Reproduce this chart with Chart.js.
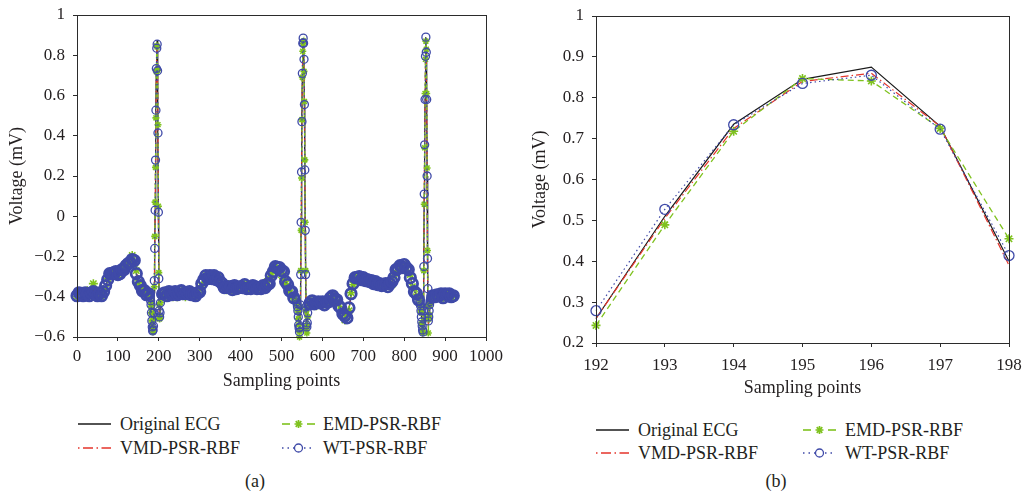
<!DOCTYPE html>
<html>
<head>
<meta charset="utf-8">
<title>ECG prediction comparison</title>
<script src="https://cdn.jsdelivr.net/npm/chart.js@4.4.1/dist/chart.umd.min.js"></script>
<style>
  html, body { margin: 0; padding: 0; background: #fff; }
  #page { position: relative; width: 1026px; height: 504px; overflow: hidden;
          font-family: 'Liberation Serif', 'Times New Roman', serif; color: #231f20; }
  canvas { position: absolute; top: 0; }
  #chartA { left: 0; }
  #chartB { left: 520px; }
  .lg { position: absolute; font-size: 18px; line-height: 20px; white-space: nowrap; }
  .sw { position: absolute; width: 34px; height: 12px; overflow: visible; }
  .cap { position: absolute; width: 60px; text-align: center; font-size: 18px; line-height: 20px; }
</style>
</head>
<body>
<div id="page">
  <canvas id="chartA" width="510" height="392"></canvas>
  <canvas id="chartB" width="506" height="399"></canvas>
  <div class="cap" style="left:225px; top:471px;">(a)</div>
  <div class="cap" style="left:746px; top:471px;">(b)</div>
</div>
<script>
// sampling points (dense around the three QRS complexes)
const samplingPoints = [
  0, 5, 10, 15, 20, 25, 30, 35, 40, 45, 50, 55, 60, 65, 70, 75, 80, 85, 90, 95,
  100, 105, 110, 115, 120, 125, 130, 135, 140, 145, 150, 155, 160, 165, 170, 175,
  178, 179, 180, 181, 182, 183, 184, 185, 186, 187, 188, 189, 190, 191, 192, 193, 194, 195, 196, 197, 198, 199, 200, 201, 202, 203, 204, 205, 206,
  210, 215, 220, 225, 230, 235, 240, 245, 250, 255, 260, 265, 270, 275, 280, 285, 290, 295, 300, 305,
  310, 315, 320, 325, 330, 335, 340, 345, 350, 355, 360, 365, 370, 375, 380, 385, 390, 395, 400, 405,
  410, 415, 420, 425, 430, 435, 440, 445, 450, 455, 460, 465, 470, 475, 480, 485, 490, 495, 500, 505,
  510, 515, 520, 525, 530,
  536, 537, 538, 539, 540, 541, 542, 543, 544, 545, 546, 547, 548, 549, 550, 551, 552, 553, 554, 555,
  556, 557, 558, 559, 560, 561, 562, 563, 564, 565, 566,
  570, 575, 580, 585, 590, 595, 600, 605, 610, 615, 620, 625, 630, 635, 640, 645, 650, 655, 660, 665,
  670, 675, 680, 685, 690, 695, 700, 705, 710, 715, 720, 725, 730, 735, 740, 745, 750, 755, 760, 765,
  770, 775, 780, 785, 790, 795, 800, 805, 810, 815, 820, 825, 830, 835,
  838, 839, 840, 841, 842, 843, 844, 845, 846, 847, 848, 849, 850, 851, 852, 853, 854, 855, 856, 857,
  858, 859, 860, 861, 862, 863, 864, 865, 866,
  870, 875, 880, 885, 890, 895, 900, 905, 910, 915, 920
];

const originalEcg = [
  -0.39, -0.385, -0.38, -0.39, -0.385, -0.38, -0.39, -0.385, -0.37, -0.38, -0.39, -0.385, -0.39, -0.38, -0.35, -0.32, -0.29, -0.28, -0.285, -0.28,
  -0.285, -0.28, -0.27, -0.26, -0.25, -0.24, -0.225, -0.21, -0.225, -0.28, -0.32, -0.35, -0.365, -0.375, -0.385, -0.39,
  -0.39, -0.40, -0.41, -0.43, -0.47, -0.51, -0.54, -0.56, -0.57, -0.555, -0.50, -0.38, -0.17, 0.02, 0.26, 0.51, 0.735, 0.845, 0.875, 0.73, 0.40, 0.02, -0.30, -0.46, -0.51, -0.47, -0.42, -0.395, -0.385,
  -0.38, -0.385, -0.39, -0.38, -0.385, -0.39, -0.38, -0.385, -0.38, -0.375, -0.38, -0.385, -0.38, -0.38, -0.385, -0.39, -0.39, -0.385, -0.37, -0.34,
  -0.31, -0.30, -0.305, -0.30, -0.305, -0.30, -0.31, -0.31, -0.32, -0.34, -0.35, -0.355, -0.35, -0.355, -0.36, -0.35, -0.355, -0.36, -0.355, -0.35,
  -0.345, -0.355, -0.36, -0.355, -0.35, -0.345, -0.355, -0.36, -0.355, -0.35, -0.35, -0.345, -0.33, -0.30, -0.27, -0.255, -0.25, -0.26, -0.265, -0.28,
  -0.32, -0.345, -0.365, -0.38, -0.40,
  -0.41, -0.42, -0.43, -0.44, -0.46, -0.49, -0.53, -0.56, -0.58, -0.56, -0.46, -0.27, -0.03, 0.21, 0.46, 0.70, 0.83, 0.885, 0.86, 0.78,
  0.56, 0.23, -0.07, -0.29, -0.46, -0.55, -0.56, -0.52, -0.47, -0.44, -0.43,
  -0.43, -0.425, -0.43, -0.435, -0.43, -0.425, -0.43, -0.435, -0.43, -0.42, -0.41, -0.40, -0.405, -0.42, -0.44, -0.46, -0.48, -0.50, -0.50, -0.46,
  -0.39, -0.33, -0.31, -0.30, -0.305, -0.31, -0.31, -0.315, -0.32, -0.32, -0.325, -0.33, -0.33, -0.335, -0.34, -0.34, -0.345, -0.34, -0.345, -0.34,
  -0.33, -0.30, -0.27, -0.255, -0.25, -0.25, -0.245, -0.25, -0.27, -0.30, -0.34, -0.37, -0.39, -0.41,
  -0.42, -0.43, -0.44, -0.46, -0.49, -0.52, -0.55, -0.57, -0.58, -0.50, -0.25, 0.11, 0.355, 0.58, 0.80, 0.89, 0.815, 0.58, 0.20, -0.21,
  -0.47, -0.53, -0.52, -0.48, -0.45, -0.43, -0.42, -0.41, -0.41,
  -0.40, -0.395, -0.40, -0.39, -0.395, -0.40, -0.39, -0.385, -0.39, -0.395, -0.40
];

const vmdPsrRbf = [
  -0.388, -0.387, -0.382, -0.39, -0.384, -0.382, -0.39, -0.386, -0.372, -0.38, -0.388, -0.386, -0.39, -0.378, -0.352, -0.318, -0.292, -0.28, -0.284, -0.282,
  -0.284, -0.279, -0.272, -0.258, -0.251, -0.238, -0.226, -0.212, -0.224, -0.282, -0.318, -0.349, -0.366, -0.374, -0.386, -0.39,
  -0.39, -0.40, -0.41, -0.43, -0.47, -0.51, -0.54, -0.56, -0.57, -0.55, -0.50, -0.37, -0.16, 0.02, 0.26, 0.505, 0.725, 0.84, 0.86, 0.73, 0.39, 0.03, -0.29, -0.46, -0.51, -0.47, -0.42, -0.395, -0.385,
  -0.381, -0.384, -0.389, -0.381, -0.386, -0.389, -0.381, -0.384, -0.381, -0.376, -0.381, -0.384, -0.381, -0.381, -0.384, -0.389, -0.389, -0.386, -0.369, -0.341,
  -0.311, -0.301, -0.304, -0.301, -0.304, -0.301, -0.309, -0.311, -0.319, -0.339, -0.349, -0.354, -0.351, -0.354, -0.359, -0.351, -0.354, -0.359, -0.356, -0.351,
  -0.346, -0.354, -0.359, -0.356, -0.351, -0.346, -0.354, -0.359, -0.356, -0.351, -0.349, -0.346, -0.331, -0.301, -0.271, -0.256, -0.251, -0.259, -0.266, -0.279,
  -0.319, -0.344, -0.366, -0.379, -0.399,
  -0.41, -0.42, -0.43, -0.44, -0.46, -0.49, -0.53, -0.56, -0.58, -0.56, -0.46, -0.27, -0.04, 0.21, 0.46, 0.70, 0.83, 0.875, 0.855, 0.78,
  0.56, 0.23, -0.07, -0.29, -0.46, -0.55, -0.56, -0.52, -0.47, -0.44, -0.43,
  -0.431, -0.426, -0.429, -0.434, -0.431, -0.426, -0.429, -0.434, -0.431, -0.421, -0.411, -0.401, -0.404, -0.419, -0.441, -0.459, -0.481, -0.499, -0.499, -0.461,
  -0.391, -0.331, -0.311, -0.301, -0.304, -0.311, -0.309, -0.316, -0.319, -0.321, -0.324, -0.329, -0.331, -0.334, -0.339, -0.341, -0.344, -0.341, -0.344, -0.341,
  -0.331, -0.301, -0.271, -0.256, -0.251, -0.249, -0.246, -0.251, -0.269, -0.301, -0.339, -0.369, -0.391, -0.409,
  -0.42, -0.43, -0.44, -0.46, -0.49, -0.52, -0.55, -0.57, -0.58, -0.50, -0.25, 0.11, 0.35, 0.58, 0.80, 0.885, 0.81, 0.58, 0.20, -0.21,
  -0.47, -0.53, -0.52, -0.48, -0.45, -0.43, -0.42, -0.41, -0.41,
  -0.399, -0.394, -0.399, -0.391, -0.394, -0.399, -0.391, -0.386, -0.389, -0.394, -0.399
];

const emdPsrRbf = [
  -0.40, -0.39, -0.375, -0.40, -0.39, -0.37, -0.40, -0.39, -0.335, -0.385, -0.40, -0.38, -0.40, -0.37, -0.36, -0.31, -0.30, -0.275, -0.295, -0.27,
  -0.295, -0.275, -0.28, -0.25, -0.26, -0.23, -0.235, -0.195, -0.235, -0.27, -0.33, -0.36, -0.355, -0.385, -0.375, -0.40,
  -0.40, -0.41, -0.43, -0.45, -0.48, -0.52, -0.55, -0.56, -0.575, -0.56, -0.51, -0.35, -0.10, 0.07, 0.243, 0.489, 0.718, 0.847, 0.841, 0.725, 0.455, 0.05, -0.28, -0.44, -0.51, -0.50, -0.43, -0.40, -0.39,
  -0.39, -0.395, -0.40, -0.37, -0.395, -0.40, -0.385, -0.40, -0.375, -0.37, -0.39, -0.40, -0.375, -0.39, -0.395, -0.40, -0.40, -0.38, -0.36, -0.345,
  -0.30, -0.31, -0.295, -0.31, -0.305, -0.29, -0.32, -0.30, -0.33, -0.35, -0.345, -0.365, -0.34, -0.36, -0.35, -0.37, -0.345, -0.365, -0.35, -0.36,
  -0.335, -0.365, -0.35, -0.345, -0.36, -0.365, -0.345, -0.36, -0.34, -0.36, -0.34, -0.325, -0.31, -0.285, -0.26, -0.245, -0.265, -0.27, -0.29, -0.31,
  -0.335, -0.355, -0.38, -0.39, -0.41,
  -0.42, -0.43, -0.44, -0.445, -0.47, -0.51, -0.54, -0.57, -0.60, -0.57, -0.45, -0.27, -0.07, 0.19, 0.48, 0.69, 0.82, 0.86, 0.87, 0.72,
  0.57, 0.28, -0.03, -0.27, -0.47, -0.56, -0.58, -0.54, -0.50, -0.45, -0.43,
  -0.425, -0.44, -0.42, -0.445, -0.435, -0.42, -0.44, -0.43, -0.44, -0.415, -0.40, -0.41, -0.395, -0.43, -0.435, -0.47, -0.47, -0.515, -0.49, -0.47,
  -0.38, -0.34, -0.30, -0.31, -0.295, -0.32, -0.30, -0.325, -0.31, -0.33, -0.315, -0.34, -0.325, -0.345, -0.33, -0.35, -0.335, -0.35, -0.34, -0.345,
  -0.34, -0.295, -0.28, -0.245, -0.26, -0.24, -0.25, -0.24, -0.28, -0.29, -0.35, -0.36, -0.40, -0.40,
  -0.41, -0.44, -0.43, -0.47, -0.48, -0.53, -0.54, -0.58, -0.57, -0.52, -0.27, 0.06, 0.34, 0.61, 0.78, 0.87, 0.83, 0.61, 0.24, -0.17,
  -0.45, -0.58, -0.51, -0.49, -0.43, -0.44, -0.41, -0.42, -0.40,
  -0.41, -0.39, -0.405, -0.38, -0.40, -0.41, -0.385, -0.395, -0.38, -0.405, -0.39
];

const wtPsrRbf = [
  -0.395, -0.38, -0.385, -0.395, -0.38, -0.385, -0.395, -0.38, -0.375, -0.385, -0.395, -0.38, -0.395, -0.375, -0.345, -0.315, -0.285, -0.285, -0.28, -0.275,
  -0.29, -0.285, -0.265, -0.265, -0.245, -0.235, -0.23, -0.215, -0.22, -0.285, -0.325, -0.345, -0.37, -0.37, -0.39, -0.385,
  -0.395, -0.405, -0.42, -0.44, -0.48, -0.52, -0.55, -0.57, -0.565, -0.545, -0.48, -0.32, -0.16, 0.03, 0.279, 0.527, 0.734, 0.835, 0.855, 0.723, 0.414, 0.02, -0.31, -0.47, -0.50, -0.48, -0.43, -0.39, -0.38,
  -0.385, -0.38, -0.395, -0.375, -0.39, -0.385, -0.375, -0.39, -0.385, -0.37, -0.385, -0.38, -0.385, -0.375, -0.39, -0.385, -0.395, -0.38, -0.375, -0.335,
  -0.315, -0.295, -0.31, -0.295, -0.31, -0.295, -0.315, -0.305, -0.325, -0.335, -0.355, -0.35, -0.355, -0.35, -0.365, -0.345, -0.36, -0.355, -0.35, -0.355,
  -0.34, -0.36, -0.355, -0.36, -0.345, -0.35, -0.36, -0.355, -0.36, -0.345, -0.355, -0.34, -0.335, -0.295, -0.275, -0.25, -0.255, -0.255, -0.27, -0.275,
  -0.325, -0.34, -0.37, -0.375, -0.405,
  -0.415, -0.425, -0.435, -0.45, -0.47, -0.50, -0.54, -0.555, -0.575, -0.55, -0.44, -0.29, -0.03, 0.22, 0.47, 0.71, 0.86, 0.885, 0.86, 0.78,
  0.555, 0.23, -0.07, -0.29, -0.45, -0.54, -0.55, -0.53, -0.48, -0.445, -0.425,
  -0.435, -0.42, -0.435, -0.43, -0.425, -0.43, -0.425, -0.44, -0.425, -0.425, -0.405, -0.395, -0.41, -0.415, -0.445, -0.455, -0.485, -0.495, -0.505, -0.455,
  -0.385, -0.335, -0.305, -0.305, -0.30, -0.315, -0.305, -0.32, -0.315, -0.325, -0.32, -0.335, -0.325, -0.34, -0.335, -0.345, -0.34, -0.335, -0.35, -0.335,
  -0.325, -0.305, -0.265, -0.26, -0.245, -0.255, -0.24, -0.255, -0.265, -0.305, -0.335, -0.375, -0.385, -0.415,
  -0.425, -0.435, -0.445, -0.47, -0.50, -0.525, -0.545, -0.565, -0.575, -0.47, -0.25, 0.11, 0.355, 0.58, 0.795, 0.89, 0.815, 0.58, 0.20, -0.21,
  -0.36, -0.52, -0.50, -0.47, -0.44, -0.425, -0.415, -0.405, -0.41,
  -0.395, -0.40, -0.39, -0.395, -0.385, -0.405, -0.385, -0.39, -0.385, -0.40, -0.395
];

const xTicksA = [0, 1000, 100];      // min, max, step
const yTicksA = [-0.6, 1, 0.2];
const xTicksB = [192, 198, 1];       // zoomed window on the first R peak
const yTicksB = [0.2, 1, 0.1];

const FONT = "'Liberation Serif', 'Times New Roman', serif";
const INK = '#231f20';
const AXIS = '#2b2b2b';
const BLACK = '#1a1a1a';
const RED = '#e5352b';
const GREEN = '#7fc21f';
const BLUE = '#3f4aa8';

function yLabel(v) {
  const r = Math.round(v * 10) / 10;
  if (r === 0) return '0';
  if (r === 1) return '1';
  return (r < 0 ? '\u2212' : '') + Math.abs(r).toFixed(1);
}

// draws the closed box round the plot area
const framePlugin = {
  id: 'frame',
  afterDatasetsDraw(chart) {
    const { ctx, chartArea: a } = chart;
    ctx.save();
    ctx.strokeStyle = AXIS;
    ctx.lineWidth = 1;
    ctx.strokeRect(Math.round(a.left) + 0.5, Math.round(a.top) + 0.5,
                   Math.round(a.right - a.left), Math.round(a.bottom - a.top));
    ctx.restore();
  }
};

// in the overview the coarse baseline stretches stand for a run of overlapping markers
function coarse(indices, i) {
  const s = samplingPoints[indices[i]];
  const prev = i > 0 ? s - samplingPoints[indices[i - 1]] : 5;
  const next = i < indices.length - 1 ? samplingPoints[indices[i + 1]] - s : 5;
  return Math.min(prev, next) >= 3;
}

function buildDatasets(indices, o) {
  const pick = arr => indices.map(i => ({ x: samplingPoints[i], y: arr[i] }));
  const thick = (thin, wide) => c => (o.overview && coarse(indices, c.dataIndex) ? wide : thin);
  return [
    { label: 'WT-PSR-RBF', data: pick(wtPsrRbf), borderColor: BLUE, borderWidth: 1.2, borderDash: [1.5, 3],
      pointStyle: 'circle', pointRadius: thick(o.r, 5.2), pointBorderWidth: thick(1.3, 2.8), pointBorderColor: BLUE,
      pointBackgroundColor: 'rgba(0,0,0,0)', order: 1 },
    { label: 'EMD-PSR-RBF', data: pick(emdPsrRbf), borderColor: GREEN, borderWidth: 1.3, borderDash: [6, 4],
      pointStyle: 'star', pointRadius: thick(o.r - 0.5, 4.5), pointBorderWidth: 1.6, pointBorderColor: GREEN, order: 2 },
    { label: 'VMD-PSR-RBF', data: pick(vmdPsrRbf), borderColor: RED, borderWidth: 1.2, borderDash: [8, 3, 1.5, 3],
      pointRadius: 0, order: 3 },
    { label: 'Original ECG', data: pick(originalEcg), borderColor: BLACK, borderWidth: 1.2,
      pointRadius: 0, order: 4 }
  ];
}

function buildChart(id, indices, o) {
  return new Chart(document.getElementById(id), {
    type: 'line',
    data: { datasets: buildDatasets(indices, o).map(d => Object.assign(d, { tension: 0, clip: false, fill: false })) },
    options: {
      responsive: false,
      animation: false,
      layout: { padding: { left: o.padL, right: o.padR, top: o.padT, bottom: 0 } },
      plugins: { legend: { display: false }, tooltip: { enabled: false } },
      scales: {
        x: {
          type: 'linear', min: o.xt[0], max: o.xt[1],
          ticks: { stepSize: o.xt[2], color: INK, padding: o.xPad, font: { family: FONT, size: 17 },
                   maxRotation: 0, autoSkip: false, callback: v => String(v) },
          grid: { drawOnChartArea: false, drawTicks: true, tickLength: 4, color: AXIS },
          border: { display: true, color: AXIS, width: 1 },
          title: { display: true, text: 'Sampling points', color: INK, font: { family: FONT, size: 18 }, padding: 0 },
          afterFit: s => { s.height = o.xH; s.paddingLeft = 0; s.paddingRight = 0; }
        },
        y: {
          type: 'linear', min: o.yt[0], max: o.yt[1],
          ticks: { stepSize: o.yt[2], color: INK, padding: 8, font: { family: FONT, size: 17 }, callback: yLabel },
          grid: { drawOnChartArea: false, drawTicks: true, tickLength: 4, color: AXIS },
          border: { display: true, color: AXIS, width: 1 },
          title: { display: true, text: 'Voltage (mV)', color: INK, font: { family: FONT, size: 18 }, padding: 0 },
          afterFit: s => { s.width = o.yW; s.paddingTop = 0; s.paddingBottom = 0; }
        }
      }
    },
    plugins: [framePlugin]
  });
}

const allIdx = samplingPoints.map((s, i) => i);
const zoomIdx = allIdx.filter(i => samplingPoints[i] >= xTicksB[0] && samplingPoints[i] <= xTicksB[1]);

buildChart('chartA', allIdx, { overview: true, r: 4, padL: 6, padR: 24, padT: 15, yW: 71, xH: 55, xPad: 5, xt: xTicksA, yt: yTicksA });
buildChart('chartB', zoomIdx, { overview: false, r: 5, padL: 9, padR: 17, padT: 16, yW: 67, xH: 56, xPad: 8, xt: xTicksB, yt: yTicksB });

// legend, two columns by two rows under each panel
const swatches = {
  'Original ECG': `<line x1="0" y1="6" x2="33" y2="6" stroke="${BLACK}" stroke-width="1.4"/>`,
  'EMD-PSR-RBF': `<line x1="0" y1="6" x2="8" y2="6" stroke="${GREEN}" stroke-width="1.6"/>
                  <line x1="25" y1="6" x2="33" y2="6" stroke="${GREEN}" stroke-width="1.6"/>
                  <path d="M16.5 2 V10 M12.5 6 H20.5 M13.7 3.2 L19.3 8.8 M13.7 8.8 L19.3 3.2" stroke="${GREEN}" stroke-width="1.7"/>`,
  'VMD-PSR-RBF': `<line x1="0" y1="6" x2="33" y2="6" stroke="${RED}" stroke-width="1.3" stroke-dasharray="1.5 3.5 10 3.5"/>`,
  'WT-PSR-RBF': `<line x1="0" y1="6" x2="33" y2="6" stroke="${BLUE}" stroke-width="1.3" stroke-dasharray="1.5 4"/>
                 <circle cx="16.5" cy="6" r="4" fill="#fff" stroke="${BLUE}" stroke-width="1.3"/>`
};
const legendGrid = [['Original ECG', 'EMD-PSR-RBF'], ['VMD-PSR-RBF', 'WT-PSR-RBF']];

function placeLegend(swX, txtX, rowY, baseY) {
  const page = document.getElementById('page');
  legendGrid.forEach((row, r) => row.forEach((name, c) => {
    const sw = document.createElementNS('http://www.w3.org/2000/svg', 'svg');
    sw.setAttribute('class', 'sw');
    sw.setAttribute('viewBox', '0 0 34 12');
    sw.style.left = swX[c] + 'px';
    sw.style.top = (rowY[r] - 6) + 'px';
    sw.innerHTML = swatches[name];
    page.appendChild(sw);
    const t = document.createElement('div');
    t.className = 'lg';
    t.textContent = name;
    t.style.left = txtX[c] + 'px';
    t.style.top = (baseY[r] - 16) + 'px';
    page.appendChild(t);
  }));
}

placeLegend([78, 282], [120, 323], [424, 448], [430, 454]);
placeLegend([596, 803], [638, 845], [430, 453], [436, 459]);
</script>
</body>
</html>
